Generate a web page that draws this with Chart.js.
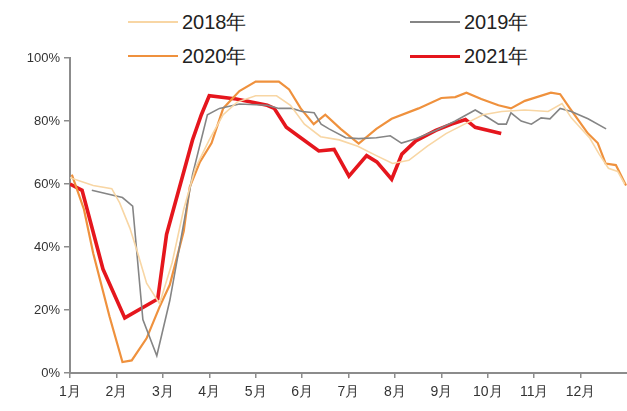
<!DOCTYPE html>
<html>
<head>
<meta charset="utf-8">
<script src="https://cdn.jsdelivr.net/npm/chart.js@4/dist/chart.umd.min.js"></script>
<style>
    html, body { margin: 0; padding: 0; background: #fff; }
    #wrap { position: relative; width: 627px; height: 411px; }
    #legend {
        position: absolute; left: 128px; top: 6px; width: 440px; height: 66px;
        background: #fff; font-family: "Liberation Sans", Arial, sans-serif; font-size: 20px; color: #222;
    }
    .item { position: absolute; display: flex; align-items: center; height: 28px; }
    .item span.line { display: inline-block; width: 50px; margin-right: 4px; }
</style>
</head>
<body>
<div id="wrap">
    <canvas id="myChart" width="627" height="411"></canvas>
    <div id="legend"></div>
</div>
<script>
// month tick labels (x axis value 0 = start of Jan)
const months = ['1月', '2月', '3月', '4月', '5月', '6月', '7月', '8月', '9月', '10月', '11月', '12月'];
const yearLabels = ['2018年', '2019年', '2020年', '2021年'];

// values: x in months since Jan 1, y in %
const x2018 = [0, 0.5, 0.9, 1.07, 1.29, 1.46, 1.65, 1.93, 2.2, 2.45, 2.7, 3.0, 3.3, 3.6, 4.0, 4.45, 4.75, 5.05, 5.4, 5.8, 6.2, 6.6, 6.95, 7.3, 7.7, 8.1, 8.5, 8.9, 9.3, 9.8, 10.3, 10.6, 10.8, 11.2, 11.4, 11.6, 11.8, 11.95];
const v2018 = [62, 59.5, 58.5, 54, 46, 38, 28.5, 22, 35, 52, 65, 74, 82, 86, 88, 88, 85, 79, 75, 74, 72, 69, 66.5, 67.5, 72, 76, 79, 82, 83, 83.5, 83, 85.5, 81, 74.5, 69.5, 65, 64, 60];

const x2019 = [0.47, 1.13, 1.35, 1.57, 1.87, 2.15, 2.64, 2.96, 3.22, 3.65, 4.25, 4.5, 4.78, 5.0, 5.26, 5.41, 5.58, 5.94, 6.22, 6.6, 6.9, 7.14, 7.45, 7.88, 8.3, 8.73, 8.95, 9.23, 9.4, 9.5, 9.72, 9.94, 10.15, 10.34, 10.56, 10.8, 11.16, 11.55];
const v2019 = [58, 55.7, 53, 17, 5.5, 23, 63, 82, 84, 85.4, 85, 84, 84, 83, 82.6, 79, 77.5, 74.7, 74.4, 74.7, 75.3, 73, 74.4, 77, 80, 83.5, 81.6, 79, 79, 82.6, 80, 79, 81, 80.7, 84, 83, 80.7, 77.5];

const x2020 = [0.04, 0.3, 0.5, 0.85, 1.13, 1.33, 1.65, 1.93, 2.15, 2.45, 2.58, 2.8, 3.05, 3.3, 3.65, 4.0, 4.5, 4.72, 4.97, 5.25, 5.5, 5.83, 6.22, 6.6, 6.93, 7.51, 8.0, 8.3, 8.54, 8.86, 9.23, 9.5, 9.8, 10.36, 10.56, 10.77, 11.16, 11.37, 11.54, 11.76, 11.98];
const v2020 = [63, 52, 38, 18, 3.5, 4, 11, 21, 28, 45, 59, 67, 73, 84, 89.5, 92.5, 92.5, 90, 84, 79, 82, 77.5, 72.8, 77.5, 80.7, 84, 87.3, 87.6, 89, 87, 85, 84, 86.4, 89, 88.5, 84, 76, 73, 66.5, 66, 59.5];

const x2021 = [0, 0.26, 0.71, 1.18, 1.89, 2.08, 2.64, 2.83, 3.0, 3.58, 4.25, 4.4, 4.66, 4.94, 5.36, 5.69, 6.01, 6.39, 6.61, 6.93, 7.15, 7.45, 7.88, 8.22, 8.52, 8.73, 9.29];
const v2021 = [60, 58, 33, 17.5, 23.5, 44, 74, 82, 88, 87, 85, 84, 78, 75, 70.5, 71, 62.5, 69, 67, 61.5, 69.5, 73.7, 77, 79, 80.5, 78, 76];

const yTicks = [0, 20, 40, 60, 80, 100];

function toPoints(xs, vs) {
    return xs.map((x, i) => ({ x: x, y: vs[i] }));
}

const axisColor = '#8c8c8c';

const series = [
    { label: yearLabels[0], data: toPoints(x2018, v2018), borderColor: '#f8d6a4', borderWidth: 1.6 },
    { label: yearLabels[1], data: toPoints(x2019, v2019), borderColor: '#858585', borderWidth: 1.6 },
    { label: yearLabels[2], data: toPoints(x2020, v2020), borderColor: '#ef913d', borderWidth: 2.2 },
    { label: yearLabels[3], data: toPoints(x2021, v2021), borderColor: '#e5161d', borderWidth: 3.6 }
];

const ctx = document.getElementById('myChart').getContext('2d');
const myChart = new Chart(ctx, {
    type: 'line',
    data: {
        datasets: series.map(s => Object.assign({
            pointRadius: 0,
            tension: 0,
            fill: false
        }, s))
    },
    options: {
        responsive: false,
        animation: false,
        layout: { padding: { top: 58, right: 0, left: 0, bottom: 0 } },
        plugins: {
            legend: { display: false },
            tooltip: { enabled: false }
        },
        scales: {
            x: {
                type: 'linear',
                min: 0,
                max: 12,
                afterBuildTicks: (scale) => { scale.ticks = months.map((m, i) => ({ value: i })); },
                afterFit: (scale) => { scale.height = 38; },
                ticks: {
                    color: '#333',
                    font: { family: '"Liberation Sans", Arial, sans-serif', size: 14 },
                    padding: 6,
                    maxRotation: 0,
                    autoSkip: false,
                    callback: (value) => months[value]
                },
                grid: {
                    drawOnChartArea: false,
                    drawTicks: true,
                    tickLength: 5,
                    color: axisColor,
                    lineWidth: 1.5
                },
                border: { display: true, color: axisColor, width: 2 }
            },
            y: {
                min: 0,
                max: 100,
                afterBuildTicks: (scale) => { scale.ticks = yTicks.map(v => ({ value: v })); },
                afterFit: (scale) => { scale.width = 70; },
                ticks: {
                    color: '#333',
                    font: { family: '"Liberation Sans Narrow", "Liberation Sans", Arial, sans-serif', size: 13 },
                    padding: 4,
                    callback: (value) => value + '%'
                },
                grid: {
                    drawOnChartArea: false,
                    drawTicks: true,
                    tickLength: 6,
                    color: axisColor,
                    lineWidth: 1.5
                },
                border: { display: true, color: axisColor, width: 2 }
            }
        }
    }
});

// legend laid out in two columns like the original
const legend = document.getElementById('legend');
const spots = [[0, 2], [282, 2], [0, 36], [282, 36]];
series.forEach((s, i) => {
    const item = document.createElement('div');
    item.className = 'item';
    item.style.left = spots[i][0] + 'px';
    item.style.top = spots[i][1] + 'px';
    const line = document.createElement('span');
    line.className = 'line';
    line.style.borderTop = Math.max(2, s.borderWidth) + 'px solid ' + s.borderColor;
    const text = document.createElement('span');
    text.textContent = s.label;
    item.appendChild(line);
    item.appendChild(text);
    legend.appendChild(item);
});
</script>
</body>
</html>
